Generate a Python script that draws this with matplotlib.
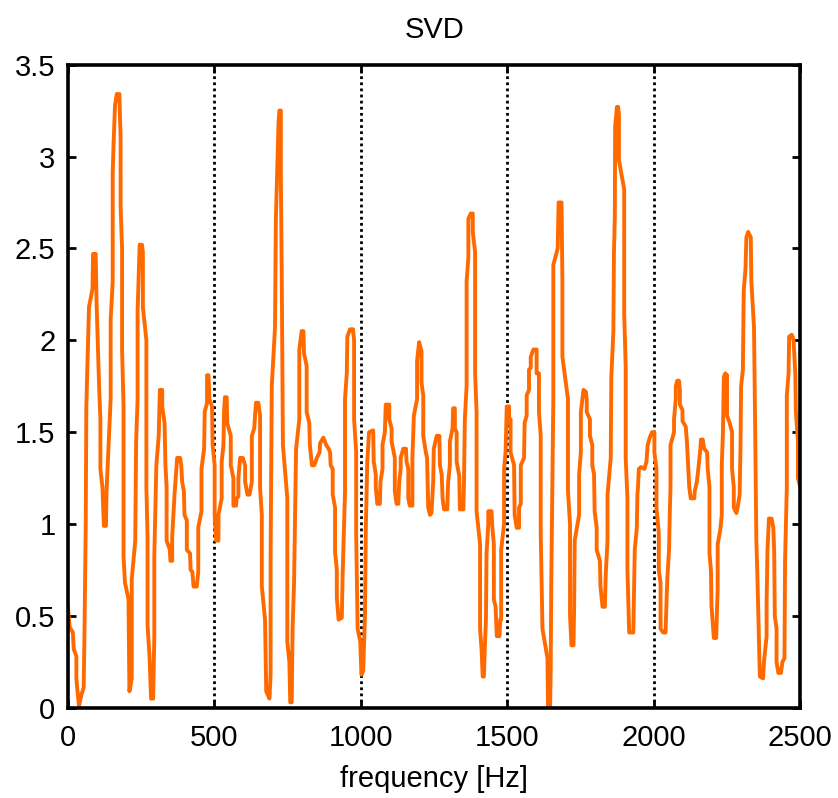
import matplotlib
matplotlib.use('Agg')
import matplotlib.pyplot as plt

plt.rcParams['font.family'] = ['Liberation Sans', 'DejaVu Sans']

# traced curve: frequency [Hz] and SVD value
freq = [0, 6, 17, 20, 29, 29, 34, 38, 46, 54, 57, 61, 63, 72, 84, 86, 95, 98, 107, 111,
        111, 118, 123, 130, 132, 141, 146, 146, 153, 153, 156, 161, 167, 176, 178, 180, 180, 185, 185, 190,
        190, 195, 207, 210, 218, 218, 230, 233, 238, 238, 245, 253, 256, 256, 268, 268, 272, 272, 279, 284,
        291, 295, 295, 302, 310, 314, 322, 322, 330, 333, 337, 337, 348, 350, 356, 356, 364, 371, 373, 383,
        387, 390, 396, 398, 406, 406, 417, 419, 425, 429, 440, 445, 445, 456, 456, 465, 467, 475, 475, 480,
        483, 492, 494, 501, 501, 506, 514, 514, 525, 525, 531, 533, 536, 542, 544, 556, 556, 565, 565, 574,
        576, 582, 582, 588, 597, 605, 605, 613, 620, 628, 628, 636, 642, 650, 656, 656, 662, 662, 673, 677,
        688, 692, 692, 696, 707, 710, 719, 722, 727, 727, 730, 734, 749, 749, 756, 759, 764, 767, 772, 775,
        779, 790, 790, 798, 804, 806, 815, 815, 824, 826, 833, 841, 850, 859, 861, 872, 882, 890, 895, 897,
        904, 904, 912, 912, 918, 918, 924, 935, 938, 943, 946, 946, 952, 954, 963, 973, 977, 977, 984, 984,
        989, 998, 1002, 1008, 1014, 1017, 1022, 1028, 1042, 1044, 1051, 1051, 1056, 1065, 1067, 1074, 1074, 1082, 1085, 1097,
        1097, 1105, 1105, 1116, 1116, 1122, 1128, 1131, 1136, 1136, 1145, 1154, 1156, 1162, 1162, 1167, 1176, 1176, 1181, 1192,
        1192, 1199, 1207, 1207, 1213, 1213, 1222, 1226, 1230, 1236, 1241, 1247, 1249, 1259, 1268, 1270, 1276, 1279, 1284, 1295,
        1298, 1304, 1304, 1313, 1315, 1321, 1321, 1327, 1327, 1336, 1338, 1350, 1352, 1355, 1361, 1361, 1367, 1367, 1375, 1382,
        1382, 1390, 1390, 1395, 1395, 1407, 1407, 1412, 1416, 1420, 1423, 1427, 1429, 1435, 1435, 1446, 1449, 1454, 1454, 1460,
        1464, 1473, 1476, 1479, 1479, 1489, 1489, 1494, 1498, 1506, 1506, 1511, 1511, 1523, 1525, 1532, 1540, 1540, 1546, 1546,
        1557, 1559, 1566, 1566, 1574, 1574, 1580, 1580, 1589, 1600, 1600, 1608, 1608, 1614, 1614, 1620, 1637, 1639, 1646, 1648,
        1650, 1657, 1657, 1672, 1675, 1685, 1688, 1688, 1707, 1707, 1714, 1714, 1719, 1726, 1728, 1730, 1745, 1745, 1751, 1751,
        1760, 1768, 1771, 1771, 1782, 1782, 1790, 1790, 1796, 1798, 1805, 1805, 1816, 1818, 1825, 1833, 1836, 1842, 1842, 1853,
        1855, 1862, 1864, 1867, 1868, 1874, 1878, 1881, 1881, 1899, 1899, 1904, 1904, 1910, 1910, 1916, 1930, 1932, 1935, 1942,
        1944, 1946, 1949, 1956, 1968, 1975, 1979, 1986, 1994, 2002, 2002, 2009, 2009, 2017, 2017, 2023, 2023, 2032, 2040, 2043,
        2046, 2052, 2055, 2057, 2057, 2069, 2069, 2075, 2075, 2080, 2086, 2089, 2089, 2098, 2098, 2109, 2113, 2117, 2121, 2126,
        2138, 2140, 2147, 2152, 2159, 2161, 2167, 2172, 2182, 2184, 2190, 2190, 2195, 2197, 2205, 2213, 2216, 2218, 2218, 2227,
        2232, 2232, 2236, 2239, 2244, 2250, 2250, 2259, 2267, 2267, 2273, 2273, 2282, 2286, 2293, 2296, 2298, 2304, 2307, 2313,
        2316, 2322, 2331, 2333, 2342, 2346, 2350, 2353, 2358, 2362, 2373, 2376, 2385, 2385, 2388, 2393, 2402, 2408, 2411, 2413,
        2419, 2419, 2425, 2434, 2439, 2446, 2448, 2454, 2454, 2460, 2462, 2471, 2477, 2483, 2485, 2492, 2492, 2500]

svd = [0.55, 0.44, 0.41, 0.32, 0.28, 0.16, 0.07, 0.01, 0.07, 0.11, 0.45, 1.0, 1.64, 2.18, 2.28, 2.47, 2.47, 2.2, 1.73, 1.57,
       1.3, 1.2, 0.99, 0.99, 1.18, 1.5, 1.68, 2.11, 2.32, 2.91, 3.07, 3.28, 3.34, 3.34, 3.2, 3.11, 2.73, 2.5, 1.95, 1.64,
       0.82, 0.68, 0.59, 0.09, 0.16, 0.7, 0.91, 1.45, 1.68, 2.16, 2.52, 2.52, 2.48, 2.18, 2.0, 1.2, 0.93, 0.45, 0.27, 0.05,
       0.05, 0.39, 0.82, 1.32, 1.48, 1.73, 1.73, 1.64, 1.55, 1.32, 1.2, 0.91, 0.86, 0.8, 0.8, 0.93, 1.16, 1.32, 1.36, 1.36,
       1.32, 1.23, 1.18, 1.05, 1.02, 0.86, 0.84, 0.75, 0.74, 0.66, 0.66, 0.74, 0.98, 1.07, 1.3, 1.41, 1.61, 1.66, 1.81, 1.81,
       1.68, 1.64, 1.43, 1.32, 1.05, 0.91, 0.91, 1.05, 1.14, 1.34, 1.43, 1.61, 1.69, 1.69, 1.55, 1.48, 1.32, 1.25, 1.1, 1.1,
       1.14, 1.15, 1.25, 1.36, 1.36, 1.32, 1.23, 1.16, 1.16, 1.23, 1.48, 1.52, 1.66, 1.66, 1.59, 1.2, 1.05, 0.66, 0.48, 0.09,
       0.05, 0.18, 0.82, 1.75, 2.07, 2.66, 3.18, 3.25, 3.25, 2.89, 2.36, 1.43, 1.14, 0.36, 0.25, 0.03, 0.03, 0.43, 0.68, 1.0,
       1.41, 1.57, 1.95, 2.05, 2.05, 1.93, 1.86, 1.61, 1.55, 1.43, 1.32, 1.32, 1.36, 1.39, 1.44, 1.47, 1.43, 1.41, 1.39, 1.32,
       1.3, 1.16, 1.09, 0.85, 0.75, 0.6, 0.48, 0.49, 0.73, 1.0, 1.18, 1.68, 1.82, 2.02, 2.06, 2.06, 2.0, 1.57, 1.39, 0.95,
       0.43, 0.36, 0.18, 0.2, 0.5, 0.98, 1.34, 1.5, 1.51, 1.34, 1.27, 1.2, 1.11, 1.11, 1.23, 1.3, 1.43, 1.5, 1.65, 1.65,
       1.57, 1.52, 1.45, 1.36, 1.18, 1.11, 1.11, 1.23, 1.3, 1.36, 1.41, 1.41, 1.34, 1.3, 1.14, 1.1, 1.1, 1.36, 1.59, 1.68,
       1.89, 1.99, 1.94, 1.77, 1.7, 1.48, 1.39, 1.36, 1.09, 1.05, 1.06, 1.23, 1.41, 1.48, 1.48, 1.32, 1.27, 1.14, 1.08, 1.08,
       1.23, 1.32, 1.45, 1.52, 1.63, 1.63, 1.52, 1.5, 1.34, 1.26, 1.08, 1.08, 1.23, 1.57, 1.75, 2.32, 2.45, 2.66, 2.69, 2.69,
       2.59, 2.48, 1.82, 1.61, 1.07, 0.89, 0.43, 0.32, 0.17, 0.17, 0.32, 0.48, 0.84, 1.0, 1.07, 1.07, 0.98, 0.89, 0.59, 0.55,
       0.39, 0.39, 0.48, 0.48, 0.86, 1.0, 1.3, 1.39, 1.64, 1.64, 1.55, 1.57, 1.39, 1.32, 1.05, 0.98, 0.98, 1.09, 1.11, 1.32,
       1.36, 1.55, 1.59, 1.7, 1.73, 1.84, 1.85, 1.91, 1.95, 1.95, 1.82, 1.82, 1.61, 1.48, 0.95, 0.43, 0.27, 0.0, 0.0, 0.2,
       0.68, 1.68, 2.41, 2.5, 2.75, 2.75, 2.32, 1.91, 1.68, 1.18, 1.0, 0.5, 0.34, 0.34, 0.55, 0.91, 1.05, 1.27, 1.39, 1.61,
       1.73, 1.72, 1.68, 1.61, 1.57, 1.48, 1.43, 1.32, 1.27, 1.07, 0.98, 0.86, 0.8, 0.66, 0.55, 0.55, 0.73, 0.91, 1.16, 1.36,
       1.8, 2.05, 2.48, 2.68, 3.16, 3.27, 3.27, 3.23, 2.98, 2.82, 2.14, 1.86, 1.36, 1.14, 0.75, 0.41, 0.41, 0.59, 0.86, 0.98,
       1.16, 1.2, 1.3, 1.31, 1.3, 1.34, 1.43, 1.47, 1.5, 1.5, 1.39, 1.3, 1.09, 0.95, 0.75, 0.68, 0.43, 0.41, 0.41, 0.55,
       0.7, 0.86, 1.09, 1.2, 1.43, 1.5, 1.57, 1.68, 1.75, 1.78, 1.78, 1.73, 1.65, 1.62, 1.56, 1.53, 1.45, 1.32, 1.2, 1.14,
       1.14, 1.18, 1.23, 1.3, 1.41, 1.46, 1.46, 1.41, 1.39, 1.3, 1.2, 0.84, 0.75, 0.55, 0.38, 0.38, 0.55, 0.64, 0.89, 0.97,
       1.05, 1.32, 1.5, 1.8, 1.82, 1.81, 1.59, 1.55, 1.5, 1.3, 1.2, 1.09, 1.06, 1.09, 1.16, 1.43, 1.75, 1.84, 2.27, 2.39,
       2.56, 2.59, 2.56, 2.32, 2.07, 1.52, 0.91, 0.75, 0.43, 0.17, 0.16, 0.25, 0.39, 0.57, 0.86, 1.03, 1.03, 0.98, 0.84, 0.5,
       0.43, 0.25, 0.19, 0.19, 0.25, 0.27, 0.8, 1.2, 1.7, 1.82, 2.02, 2.03, 2.0, 1.82, 1.61, 1.45, 1.25, 1.2]

xticks = [0, 500, 1000, 1500, 2000, 2500]
yticks = [0, 0.5, 1, 1.5, 2, 2.5, 3, 3.5]
ylabels = ['0', '0.5', '1', '1.5', '2', '2.5', '3', '3.5']

fig = plt.figure(figsize=(8.38, 7.98), dpi=100)
ax = fig.add_axes([0.081, 0.113, 0.874, 0.806])

# dotted vertical grid at inner ticks only
for xv in xticks[1:-1]:
    ax.axvline(xv, color='black', linestyle=(0, (1, 1.2)), linewidth=2.0, zorder=1)

ax.plot(freq, svd, color='#ff6a00', linewidth=2.8, zorder=2)

ax.set_xlim(0, 2500)
ax.set_ylim(0, 3.5)
ax.set_xticks(xticks)
ax.set_yticks(yticks)
ax.set_yticklabels(ylabels)
ax.tick_params(direction='in', length=6, width=2, labelsize=21, top=True, right=True, pad=9)
ax.tick_params(axis='x', pad=12)
for s in ax.spines.values():
    s.set_linewidth(2.6)

ax.set_xlabel('frequency [Hz]', fontsize=21, labelpad=9)
ax.set_title('SVD', fontsize=21, pad=19)

plt.savefig('out.png', dpi=100)
